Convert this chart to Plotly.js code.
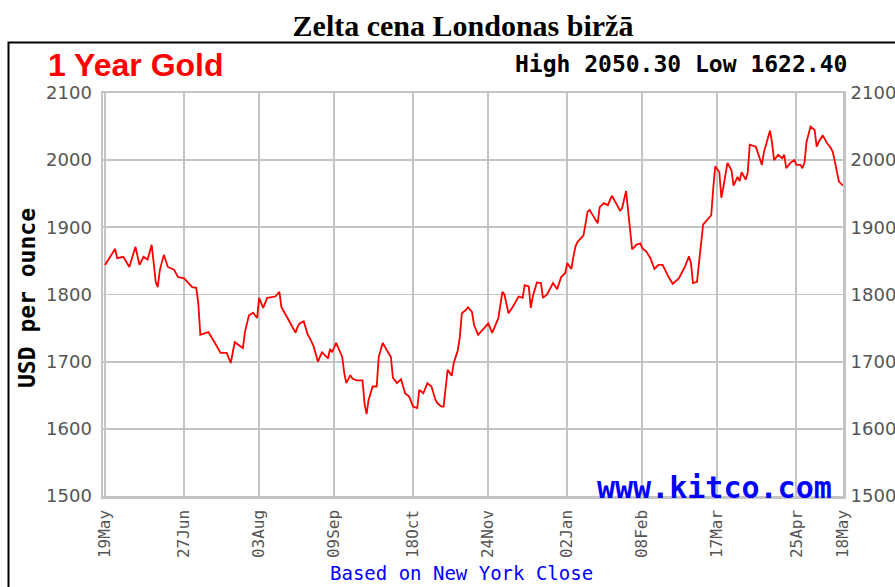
<!DOCTYPE html>
<html><head><meta charset="utf-8">
<script src="https://cdn.plot.ly/plotly-3.0.1.min.js"></script>
<style>html,body{margin:0;padding:0;background:#fff;overflow:hidden;} #chart{width:895px;height:587px;}</style>
</head><body><div id="chart"></div>
<script>
const dates = [
"2022-05-19","2022-05-24","2022-05-25","2022-05-28","2022-05-31","2022-06-03","2022-06-05","2022-06-07","2022-06-09","2022-06-11",
"2022-06-12","2022-06-13","2022-06-14","2022-06-15","2022-06-17","2022-06-19","2022-06-22","2022-06-24","2022-06-27","2022-07-01",
"2022-07-03","2022-07-04","2022-07-05","2022-07-09","2022-07-12","2022-07-15","2022-07-18","2022-07-20","2022-07-22","2022-07-26",
"2022-07-27","2022-07-29","2022-07-31","2022-08-02","2022-08-03","2022-08-05","2022-08-07","2022-08-11","2022-08-13","2022-08-14",
"2022-08-17","2022-08-21","2022-08-22","2022-08-23","2022-08-25","2022-08-27","2022-08-28","2022-08-30","2022-09-01","2022-09-03",
"2022-09-06","2022-09-07","2022-09-08","2022-09-10","2022-09-13","2022-09-14","2022-09-15","2022-09-17","2022-09-18","2022-09-20",
"2022-09-23","2022-09-24","2022-09-25","2022-09-26","2022-09-28","2022-09-30","2022-10-01","2022-10-03","2022-10-05","2022-10-07",
"2022-10-08","2022-10-10","2022-10-12","2022-10-14","2022-10-16","2022-10-18","2022-10-20","2022-10-21","2022-10-23","2022-10-25",
"2022-10-27","2022-10-29","2022-10-30","2022-11-01","2022-11-02","2022-11-03","2022-11-04","2022-11-06","2022-11-07","2022-11-09",
"2022-11-10","2022-11-11","2022-11-13","2022-11-14","2022-11-16","2022-11-17","2022-11-19","2022-11-22","2022-11-24","2022-11-26",
"2022-11-29","2022-12-01","2022-12-02","2022-12-04","2022-12-06","2022-12-09","2022-12-11","2022-12-12","2022-12-14","2022-12-15",
"2022-12-16","2022-12-18","2022-12-20","2022-12-21","2022-12-23","2022-12-26","2022-12-28","2022-12-30","2023-01-01","2023-01-02",
"2023-01-04","2023-01-05","2023-01-06","2023-01-07","2023-01-10","2023-01-12","2023-01-13","2023-01-15","2023-01-17","2023-01-18",
"2023-01-20","2023-01-22","2023-01-24","2023-01-26","2023-01-28","2023-01-29","2023-01-31","2023-02-01","2023-02-02","2023-02-03",
"2023-02-05","2023-02-07","2023-02-08","2023-02-10","2023-02-12","2023-02-14","2023-02-16","2023-02-18","2023-02-21","2023-02-23",
"2023-02-26","2023-02-28","2023-03-01","2023-03-03","2023-03-04","2023-03-05","2023-03-07","2023-03-08","2023-03-09","2023-03-10",
"2023-03-12","2023-03-14","2023-03-15","2023-03-16","2023-03-18","2023-03-19","2023-03-20","2023-03-22","2023-03-24","2023-03-25",
"2023-03-27","2023-03-28","2023-03-29","2023-03-31","2023-04-01","2023-04-02","2023-04-05","2023-04-06","2023-04-08","2023-04-09",
"2023-04-10","2023-04-12","2023-04-13","2023-04-14","2023-04-16","2023-04-18","2023-04-19","2023-04-20","2023-04-22","2023-04-24",
"2023-04-25","2023-04-27","2023-04-28","2023-04-29","2023-04-30","2023-05-02","2023-05-04","2023-05-05","2023-05-06","2023-05-08",
"2023-05-10","2023-05-12","2023-05-13","2023-05-14","2023-05-15","2023-05-16","2023-05-18"
];
const prices = [
1844,1868,1854,1856,1841,1871,1844,1856,1852,1874,
1847,1819,1811,1836,1859,1841,1837,1826,1824,1811,
1810,1787,1740,1744,1729,1713,1713,1698,1729,1720,
1744,1769,1773,1765,1795,1780,1795,1797,1804,1781,
1765,1743,1752,1757,1760,1740,1735,1722,1700,1714,
1705,1719,1714,1728,1707,1683,1668,1680,1675,1672,
1672,1638,1622,1643,1663,1663,1707,1728,1717,1707,
1676,1668,1674,1653,1648,1633,1631,1658,1653,1668,
1663,1643,1638,1633,1633,1663,1688,1679,1698,1717,
1737,1772,1777,1781,1774,1755,1740,1750,1757,1743,
1765,1804,1800,1772,1781,1797,1795,1814,1812,1780,
1797,1818,1817,1795,1800,1817,1808,1826,1832,1847,
1838,1856,1871,1878,1888,1923,1926,1916,1906,1930,
1936,1933,1947,1936,1925,1928,1954,1925,1893,1867,
1874,1876,1869,1864,1854,1838,1844,1844,1826,1816,
1824,1836,1841,1857,1847,1817,1819,1848,1881,1904,
1911,1918,1958,1991,1982,1944,1960,1996,1985,1962,
1975,1969,1982,1971,1981,2023,2020,2012,1993,2012,
2023,2044,2026,2000,2008,2003,2008,1988,1996,2000,
1993,1993,1988,1996,2027,2050,2045,2020,2027,2037,
2026,2018,2012,1997,1982,1968,1962
];
const tickDates = ["2022-05-19","2022-06-27","2022-08-03","2022-09-09","2022-10-18","2022-11-24","2023-01-02","2023-02-08","2023-03-17","2023-04-25","2023-05-18"];
const tickLabels = ["19May","27Jun","03Aug","09Sep","18Oct","24Nov","02Jan","08Feb","17Mar","25Apr","18May"];
const yTicks = [1500,1600,1700,1800,1900,2000,2100];
const highValue = "2050.30";
const lowValue = "1622.40";

const L = 103, R = 843, T = 93, B = 496;
const W = R - L, H = B - T;
const px = x => (x - L) / W;
const py = y => (B - y) / H;

const grid = '#c4c4c4';
const tickFont = {family: 'DejaVu Sans', size: 18, color: '#555555'};

const traces = [
  {x: dates, y: prices, type: 'scatter', mode: 'lines', line: {color: '#ff0000', width: 1.8}, hoverinfo: 'x+y', showlegend: false},
  {x: dates, y: prices, type: 'scatter', mode: 'lines', yaxis: 'y2', line: {color: 'rgba(0,0,0,0)', width: 0}, hoverinfo: 'skip', showlegend: false}
];

const layout = {
  width: 895, height: 587, autosize: false,
  margin: {l: L, r: 895 - R, t: T, b: 587 - B, pad: 0},
  paper_bgcolor: '#ffffff', plot_bgcolor: '#ffffff',
  showlegend: false,
  title: {text: '<b>Zelta cena Londonas biržā</b>', font: {family: 'Liberation Serif', size: 30, color: '#000'},
          xref: 'container', x: 463/895, xanchor: 'center', yref: 'container', y: 1 - 25/587, yanchor: 'middle'},
  xaxis: {
    type: 'date', range: ['2022-05-18', '2023-05-18'],
    tickmode: 'array', tickvals: tickDates, ticktext: tickLabels, tickangle: -90,
    tickfont: {family: 'DejaVu Sans Mono', size: 16, color: '#555555'},
    ticks: 'outside', ticklen: 5, tickcolor: 'rgba(0,0,0,0)',
    showgrid: true, gridcolor: grid, gridwidth: 1.8,
    showline: true, linecolor: grid, linewidth: 2.5, mirror: true, zeroline: false, fixedrange: true
  },
  yaxis: {
    range: [1500, 2100], tickmode: 'array', tickvals: yTicks,
    tickfont: tickFont, ticks: 'outside', ticklen: 5, tickcolor: 'rgba(0,0,0,0)',
    showgrid: true, gridcolor: grid, gridwidth: 1.8,
    showline: true, linecolor: grid, linewidth: 2.5, mirror: true, zeroline: false, fixedrange: true
  },
  yaxis2: {
    overlaying: 'y', side: 'right', range: [1500, 2100], tickmode: 'array', tickvals: yTicks,
    tickfont: tickFont, ticks: 'outside', ticklen: 3, tickcolor: 'rgba(0,0,0,0)',
    showgrid: false, showline: false, zeroline: false, fixedrange: true
  },
  shapes: [
    {type: 'rect', xref: 'paper', yref: 'paper', x0: px(8.5), x1: px(905), y0: py(600), y1: py(42.5),
     line: {color: '#000', width: 2}, fillcolor: 'rgba(0,0,0,0)', layer: 'below'}
  ],
  annotations: [
    {text: '<b>1 Year Gold</b>', xref: 'paper', yref: 'paper', x: px(47), y: py(65), xanchor: 'left', yanchor: 'middle',
     showarrow: false, borderpad: 0, font: {family: 'Liberation Sans', size: 32, color: '#ff0000'}},
    {text: '<b>High ' + highValue + ' Low ' + lowValue + '</b>', xref: 'paper', yref: 'paper', x: px(849), y: py(64), xanchor: 'right', yanchor: 'middle',
     showarrow: false, font: {family: 'DejaVu Sans Mono', size: 23, color: '#000'}},
    {text: '<b>USD per ounce</b>', xref: 'paper', yref: 'paper', x: px(27), y: py(298), xanchor: 'center', yanchor: 'middle', textangle: -90,
     showarrow: false, font: {family: 'DejaVu Sans Mono', size: 23, color: '#000'}},
    {text: '<b>www.kitco.com</b>', xref: 'paper', yref: 'paper', x: px(714), y: py(487), xanchor: 'center', yanchor: 'middle',
     showarrow: false, font: {family: 'DejaVu Sans Mono', size: 30, color: '#0000ff'}},
    {text: 'Based on New York Close', xref: 'paper', yref: 'paper', x: px(461), y: py(586), xanchor: 'center', yanchor: 'bottom',
     showarrow: false, font: {family: 'DejaVu Sans Mono', size: 19, color: '#0000ff'}}
  ]
};

Plotly.newPlot('chart', traces, layout, {displayModeBar: false, staticPlot: true});
</script>
</body></html>
